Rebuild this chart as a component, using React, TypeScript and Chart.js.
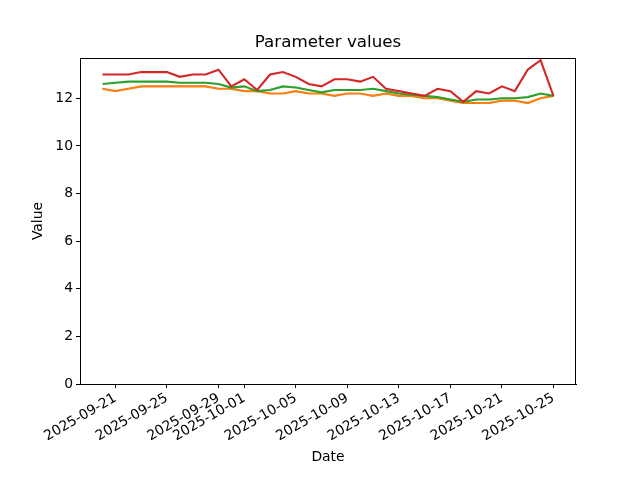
import React, { useEffect, useRef } from "react";
import { Chart, registerables } from "chart.js";

Chart.register(...registerables);

const dates = [
  "2025-09-20", "2025-09-21", "2025-09-22", "2025-09-23", "2025-09-24", "2025-09-25",
  "2025-09-26", "2025-09-27", "2025-09-28", "2025-09-29", "2025-09-30", "2025-10-01",
  "2025-10-02", "2025-10-03", "2025-10-04", "2025-10-05", "2025-10-06", "2025-10-07",
  "2025-10-08", "2025-10-09", "2025-10-10", "2025-10-11", "2025-10-12", "2025-10-13",
  "2025-10-14", "2025-10-15", "2025-10-16", "2025-10-17", "2025-10-18", "2025-10-19",
  "2025-10-20", "2025-10-21", "2025-10-22", "2025-10-23", "2025-10-24", "2025-10-25",
];

const tickDates = [
  "2025-09-21", "2025-09-25", "2025-09-29", "2025-10-01", "2025-10-05",
  "2025-10-09", "2025-10-13", "2025-10-17", "2025-10-21", "2025-10-25",
];

const yTicks = [0, 2, 4, 6, 8, 10, 12];

const orangeValues = [
  12.4, 12.3, 12.4, 12.5, 12.5, 12.5, 12.5, 12.5, 12.5, 12.4, 12.4, 12.3,
  12.3, 12.2, 12.2, 12.3, 12.2, 12.2, 12.1, 12.2, 12.2, 12.1, 12.2, 12.1,
  12.1, 12.0, 12.0, 11.9, 11.8, 11.8, 11.8, 11.9, 11.9, 11.8, 12.0, 12.1,
];

const blueValues = [...orangeValues];

const greenValues = [
  12.6, 12.65, 12.7, 12.7, 12.7, 12.7, 12.65, 12.65, 12.65, 12.6, 12.45, 12.5,
  12.3, 12.35, 12.5, 12.45, 12.35, 12.25, 12.35, 12.35, 12.35, 12.4, 12.3, 12.2,
  12.15, 12.1, 12.05, 11.95, 11.85, 11.95, 11.95, 12.0, 12.0, 12.05, 12.2, 12.1,
];

const redValues = [
  13.0, 13.0, 13.0, 13.1, 13.1, 13.1, 12.9, 13.0, 13.0, 13.2, 12.5, 12.8,
  12.35, 13.0, 13.1, 12.9, 12.6, 12.5, 12.8, 12.8, 12.7, 12.9, 12.4, 12.3,
  12.2, 12.1, 12.4, 12.3, 11.85, 12.3, 12.2, 12.5, 12.3, 13.2, 13.6, 12.1,
];

const FONT = "'DejaVu Sans', sans-serif";

const framePlugin = {
  id: "frame",
  afterLayout(chart: any) {
    const tb = chart.titleBlock;
    if (tb) {
      tb.left = chart.chartArea.left;
      tb.right = chart.chartArea.right;
      tb.width = tb.right - tb.left;
    }
  },
  afterDraw(chart: any) {
    const { ctx, chartArea } = chart;
    ctx.save();
    ctx.strokeStyle = "#000";
    ctx.lineWidth = 1;
    ctx.strokeRect(
      Math.round(chartArea.left) + 0.5,
      Math.round(chartArea.top) + 0.5,
      Math.round(chartArea.right - chartArea.left) - 1,
      Math.round(chartArea.bottom - chartArea.top)
    );
    ctx.restore();
  },
};

export default function App() {
  const ref = useRef<HTMLCanvasElement>(null);

  useEffect(() => {
    if (!ref.current) return;
    const mk = (vals: number[], color: string, order: number, width = 2.1) => ({
      data: vals.map((v, i) => ({ x: i, y: v })),
      borderColor: color,
      backgroundColor: color,
      borderWidth: width,
      pointRadius: 0,
      tension: 0,
      fill: false,
      order,
    });
    const chart = new Chart(ref.current, {
      type: "line",
      data: {
        datasets: [
          { ...mk(blueValues, "#1f77b4", 3, 1.2), label: "blue" },
          { ...mk(orangeValues, "#ff7f0e", 2), label: "orange" },
          { ...mk(greenValues, "#2ca02c", 1), label: "green" },
          { ...mk(redValues, "#d62728", 0), label: "red" },
        ],
      },
      options: {
        responsive: false,
        animation: false,
        layout: { padding: { left: 0, right: 64, top: 0, bottom: 0 } },
        plugins: {
          legend: { display: false },
          tooltip: { enabled: false },
          title: {
            display: true,
            text: "Parameter values",
            color: "#000",
            font: { family: FONT, size: 16.7, weight: "normal" },
            padding: { top: 33, bottom: 5 },
          },
        },
        scales: {
          x: {
            type: "linear",
            min: -1.75,
            max: 36.75,
            afterBuildTicks: (scale: any) => {
              scale.ticks = tickDates.map((d) => ({ value: dates.indexOf(d) }));
            },
            afterFit: (scale: any) => {
              scale.height = 96;
            },
            ticks: {
              autoSkip: false,
              maxRotation: 30,
              minRotation: 30,
              color: "#000",
              padding: 2,
              font: { family: FONT, size: 13.9 },
              callback: (v: any) => dates[Math.round(Number(v))] ?? "",
            },
            grid: { drawOnChartArea: false, tickLength: 4, color: "#000" },
            border: { display: true, color: "#000" },
            title: {
              display: true,
              text: "Date",
              color: "#000",
              font: { family: FONT, size: 13.9 },
              padding: { top: 0, bottom: 14.5 },
            },
          },
          y: {
            type: "linear",
            min: 0,
            max: 13.69,
            afterBuildTicks: (scale: any) => {
              scale.ticks = yTicks.map((v) => ({ value: v }));
            },
            afterFit: (scale: any) => {
              scale.width = 80;
            },
            ticks: {
              color: "#000",
              padding: 3,
              font: { family: FONT, size: 13.9 },
              callback: (v: any) => String(v),
            },
            grid: { drawOnChartArea: false, tickLength: 4, color: "#000" },
            border: { display: true, color: "#000" },
            title: {
              display: true,
              text: "Value",
              color: "#000",
              font: { family: FONT, size: 13.9 },
              padding: { top: 29.7, bottom: 0 },
            },
          },
        },
      },
      plugins: [framePlugin],
    } as any);
    return () => chart.destroy();
  }, []);

  return (
    <div style={{ position: "absolute", left: 0, top: 0, width: 640, height: 480, background: "#fff" }}>
      <canvas ref={ref} width={640} height={480} style={{ width: 640, height: 480 }} />
    </div>
  );
}
